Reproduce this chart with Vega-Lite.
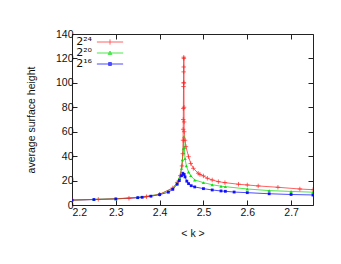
{
  "$schema": "https://vega.github.io/schema/vega-lite/v6.json",
  "width": 241,
  "height": 171,
  "autosize": {"type": "none"},
  "padding": {"left": 72, "top": 34, "right": 28, "bottom": 59},
  "background": "white",
  "config": {
    "font": "Liberation Sans",
    "view": {"stroke": "#222", "strokeWidth": 1},
    "axis": {
      "grid": false,
      "domain": false,
      "tickSize": -5,
      "tickColor": "#222",
      "tickWidth": 1,
      "labelFont": "Liberation Sans",
      "labelFontSize": 10.5,
      "labelColor": "#111",
      "titleFont": "Liberation Sans",
      "titleFontSize": 10.5,
      "titleFontWeight": "normal",
      "titleColor": "#111"
    }
  },
  "data": {
    "values": [
      {"k": 2.2, "h": 4.0, "s": "2^16"},
      {"k": 2.25, "h": 4.5, "s": "2^16"},
      {"k": 2.3, "h": 5.0, "s": "2^16"},
      {"k": 2.35, "h": 6.0, "s": "2^16"},
      {"k": 2.36, "h": 6.3, "s": "2^16"},
      {"k": 2.38, "h": 7.2, "s": "2^16"},
      {"k": 2.4, "h": 8.5, "s": "2^16"},
      {"k": 2.42, "h": 10.5, "s": "2^16"},
      {"k": 2.43, "h": 12.8, "s": "2^16"},
      {"k": 2.44, "h": 17, "s": "2^16"},
      {"k": 2.445, "h": 20, "s": "2^16"},
      {"k": 2.45, "h": 24, "s": "2^16"},
      {"k": 2.453, "h": 26, "s": "2^16"},
      {"k": 2.456, "h": 25, "s": "2^16"},
      {"k": 2.458, "h": 23, "s": "2^16"},
      {"k": 2.462, "h": 19.5, "s": "2^16"},
      {"k": 2.466, "h": 17.5, "s": "2^16"},
      {"k": 2.472, "h": 15.8, "s": "2^16"},
      {"k": 2.48, "h": 14.8, "s": "2^16"},
      {"k": 2.5, "h": 13.4, "s": "2^16"},
      {"k": 2.52, "h": 12.3, "s": "2^16"},
      {"k": 2.54, "h": 11.5, "s": "2^16"},
      {"k": 2.55, "h": 11.2, "s": "2^16"},
      {"k": 2.57, "h": 10.6, "s": "2^16"},
      {"k": 2.6, "h": 10.1, "s": "2^16"},
      {"k": 2.65, "h": 9.2, "s": "2^16"},
      {"k": 2.7, "h": 8.6, "s": "2^16"},
      {"k": 2.75, "h": 8.2, "s": "2^16"},

      {"k": 2.2, "h": 4.0, "s": "2^20"},
      {"k": 2.25, "h": 4.6, "s": "2^20"},
      {"k": 2.3, "h": 5.1, "s": "2^20"},
      {"k": 2.35, "h": 6.3, "s": "2^20"},
      {"k": 2.4, "h": 8.7, "s": "2^20"},
      {"k": 2.43, "h": 13.5, "s": "2^20"},
      {"k": 2.44, "h": 18, "s": "2^20"},
      {"k": 2.445, "h": 22, "s": "2^20"},
      {"k": 2.45, "h": 30, "s": "2^20"},
      {"k": 2.452, "h": 37, "s": "2^20"},
      {"k": 2.454, "h": 46, "s": "2^20"},
      {"k": 2.455, "h": 56, "s": "2^20"},
      {"k": 2.456, "h": 47, "s": "2^20"},
      {"k": 2.458, "h": 38, "s": "2^20"},
      {"k": 2.461, "h": 32, "s": "2^20"},
      {"k": 2.466, "h": 27, "s": "2^20"},
      {"k": 2.471, "h": 24, "s": "2^20"},
      {"k": 2.48, "h": 20.5, "s": "2^20"},
      {"k": 2.5, "h": 18.3, "s": "2^20"},
      {"k": 2.52, "h": 16.6, "s": "2^20"},
      {"k": 2.54, "h": 15.4, "s": "2^20"},
      {"k": 2.55, "h": 15.0, "s": "2^20"},
      {"k": 2.6, "h": 13.1, "s": "2^20"},
      {"k": 2.65, "h": 11.8, "s": "2^20"},
      {"k": 2.7, "h": 11.1, "s": "2^20"},
      {"k": 2.75, "h": 10.5, "s": "2^20"},

      {"k": 2.2, "h": 4.0, "s": "2^24"},
      {"k": 2.26, "h": 4.6, "s": "2^24"},
      {"k": 2.33, "h": 5.5, "s": "2^24"},
      {"k": 2.37, "h": 6.8, "s": "2^24"},
      {"k": 2.4, "h": 8.8, "s": "2^24"},
      {"k": 2.43, "h": 14, "s": "2^24"},
      {"k": 2.44, "h": 18.5, "s": "2^24"},
      {"k": 2.447, "h": 24, "s": "2^24"},
      {"k": 2.451, "h": 32, "s": "2^24"},
      {"k": 2.453, "h": 42, "s": "2^24"},
      {"k": 2.4535, "h": 53, "s": "2^24"},
      {"k": 2.4538, "h": 62, "s": "2^24"},
      {"k": 2.454, "h": 70, "s": "2^24"},
      {"k": 2.4542, "h": 79, "s": "2^24"},
      {"k": 2.4545, "h": 97, "s": "2^24"},
      {"k": 2.4547, "h": 100, "s": "2^24"},
      {"k": 2.4549, "h": 109, "s": "2^24"},
      {"k": 2.455, "h": 113, "s": "2^24"},
      {"k": 2.4551, "h": 121, "s": "2^24"},
      {"k": 2.4553, "h": 120, "s": "2^24"},
      {"k": 2.4555, "h": 100, "s": "2^24"},
      {"k": 2.4557, "h": 80, "s": "2^24"},
      {"k": 2.4559, "h": 68, "s": "2^24"},
      {"k": 2.456, "h": 60, "s": "2^24"},
      {"k": 2.458, "h": 53, "s": "2^24"},
      {"k": 2.46, "h": 47.8, "s": "2^24"},
      {"k": 2.466, "h": 39.6, "s": "2^24"},
      {"k": 2.471, "h": 34, "s": "2^24"},
      {"k": 2.477, "h": 30, "s": "2^24"},
      {"k": 2.488, "h": 26, "s": "2^24"},
      {"k": 2.492, "h": 25, "s": "2^24"},
      {"k": 2.5, "h": 23.8, "s": "2^24"},
      {"k": 2.509, "h": 21.9, "s": "2^24"},
      {"k": 2.52, "h": 20.5, "s": "2^24"},
      {"k": 2.534, "h": 19.1, "s": "2^24"},
      {"k": 2.549, "h": 18.3, "s": "2^24"},
      {"k": 2.58, "h": 17.0, "s": "2^24"},
      {"k": 2.6, "h": 16.4, "s": "2^24"},
      {"k": 2.625, "h": 15.6, "s": "2^24"},
      {"k": 2.67, "h": 14.5, "s": "2^24"},
      {"k": 2.72, "h": 13.1, "s": "2^24"},
      {"k": 2.75, "h": 12.5, "s": "2^24"}
    ]
  },
  "layer": [
    {
      "mark": {"type": "line", "strokeWidth": 1, "opacity": 0.7, "clip": true},
      "encoding": {
        "x": {
          "field": "k", "type": "quantitative",
          "scale": {"domain": [2.2, 2.75], "nice": false, "zero": false},
          "axis": {"values": [2.2, 2.3, 2.4, 2.5, 2.6, 2.7], "format": ".1f", "title": "< k >", "labelPadding": 7, "titlePadding": 11}
        },
        "y": {
          "field": "h", "type": "quantitative",
          "scale": {"domain": [0, 140], "nice": false},
          "axis": {"values": [0, 20, 40, 60, 80, 100, 120, 140], "title": "average surface height", "labelPadding": 4, "titlePadding": 19}
        },
        "color": {
          "field": "s", "type": "nominal",
          "scale": {"domain": ["2^24", "2^20", "2^16"], "range": ["#ff2020", "#00dd00", "#0000ff"]},
          "legend": {
            "orient": "none",
            "legendX": 0,
            "legendY": 2,
            "direction": "vertical",
            "title": null,
            "symbolStrokeWidth": 1,
            "symbolOffset": 32,
            "labelOffset": -24,
            "labelAlign": "right",
            "labelFontSize": 11,
            "labelFont": "DejaVu Sans",
            "labelColor": "#111",
            "rowPadding": -10,
            "padding": 0,
            "labelExpr": "datum.value === '2^24' ? '2²⁴' : datum.value === '2^20' ? '2²⁰' : '2¹⁶'"
          }
        },
        "order": {"field": "k", "type": "quantitative"}
      }
    },
    {
      "transform": [{"filter": "false"}],
      "mark": {"type": "point", "filled": true, "strokeWidth": 1},
      "encoding": {
        "color": {"field": "s", "type": "nominal"},
        "stroke": {"field": "s", "type": "nominal", "scale": {"domain": ["2^24", "2^20", "2^16"], "range": ["#ff5050", "#33dd33", "#4444ff"]}},
        "shape": {"field": "s", "type": "nominal", "scale": {"domain": ["2^24", "2^20", "2^16"], "range": ["M-2.5,0H2.5M0,-0.5V0.5", "M-2.5,0H2.5M-0.36,0.27L0,-0.36L0.36,0.27Z", "M-2.5,0H2.5M-0.28,-0.28H0.28V0.28H-0.28Z"]}},
        "size": {"field": "s", "type": "nominal", "scale": {"domain": ["2^24", "2^20", "2^16"], "range": [110, 110, 110]}}
      }
    },
    {
      "transform": [{"filter": "datum.s === '2^24'"}],
      "mark": {"type": "point", "shape": "M-1,0H1M0,-1V1", "size": 20, "filled": false, "stroke": "#ff2020", "strokeWidth": 0.8, "opacity": 0.85, "clip": true},
      "encoding": {
        "x": {"field": "k", "type": "quantitative", "axis": {"orient": "top", "values": [2.2, 2.3, 2.4, 2.5, 2.6, 2.7], "labels": false, "title": null}},
        "y": {"field": "h", "type": "quantitative", "axis": {"orient": "right", "values": [0, 20, 40, 60, 80, 100, 120, 140], "labels": false, "title": null}}
      }
    },
    {
      "transform": [{"filter": "datum.s === '2^20'"}],
      "mark": {"type": "point", "shape": "triangle-up", "size": 11, "filled": true, "fill": "#00dd00", "opacity": 0.9, "clip": true},
      "encoding": {
        "x": {"field": "k", "type": "quantitative", "axis": null},
        "y": {"field": "h", "type": "quantitative", "axis": null}
      }
    },
    {
      "transform": [{"filter": "datum.s === '2^16'"}],
      "mark": {"type": "point", "shape": "square", "size": 8, "filled": true, "fill": "#0000ff", "opacity": 0.9, "clip": true},
      "encoding": {
        "x": {"field": "k", "type": "quantitative", "axis": null},
        "y": {"field": "h", "type": "quantitative", "axis": null}
      }
    }
  ],
  "resolve": {"axis": {"x": "independent", "y": "independent"}}
}
